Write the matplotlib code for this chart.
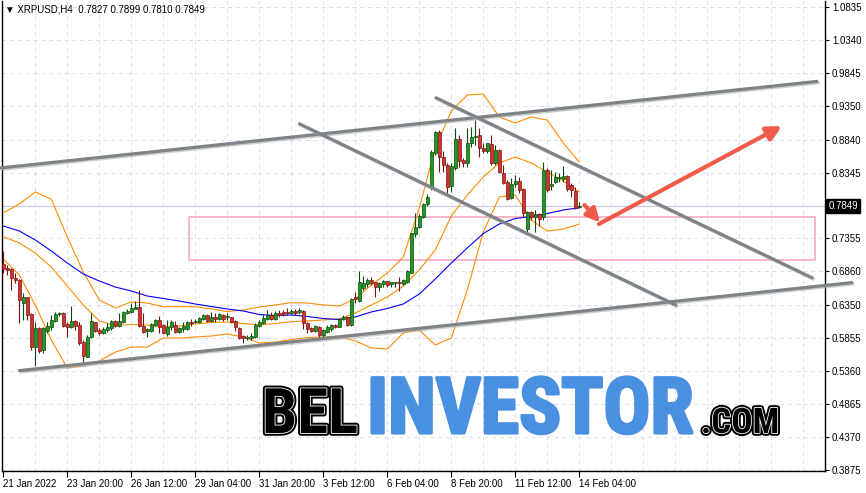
import matplotlib
matplotlib.use("Agg")
import matplotlib.pyplot as plt
import matplotlib.patheffects as pe
from matplotlib.patches import Rectangle, FancyArrowPatch
from matplotlib.transforms import blended_transform_factory

plt.rcParams['font.family'] = ['Liberation Sans', 'DejaVu Sans']

# XRPUSD H4 candles, bar 0 = 21 Jan 2022 04:00
opens = [0.6971, 0.6916, 0.6896, 0.6765, 0.6731, 0.6380, 0.6475, 0.6220, 0.5724, 0.6009,
         0.5679, 0.5964, 0.6024, 0.6115, 0.6220, 0.6240, 0.6069, 0.6024, 0.6115, 0.6054,
         0.5804, 0.5578, 0.5874, 0.6099, 0.5979, 0.5939, 0.5979, 0.6009, 0.6115, 0.6039,
         0.6104, 0.6230, 0.6255, 0.6300, 0.6325, 0.6044, 0.5969, 0.5969, 0.6054, 0.6130,
         0.6054, 0.5914, 0.6019, 0.6054, 0.5954, 0.5994, 0.5994, 0.6104, 0.6099, 0.6095,
         0.6145, 0.6205, 0.6119, 0.6180, 0.6140, 0.6200, 0.6170, 0.6170, 0.6110, 0.6004,
         0.5889, 0.5854, 0.5854, 0.5879, 0.6039, 0.6079, 0.6145, 0.6205, 0.6140, 0.6240,
         0.6255, 0.6255, 0.6230, 0.6269, 0.6245, 0.6269, 0.6079, 0.6004, 0.5969, 0.6029,
         0.5904, 0.5954, 0.5989, 0.6054, 0.6029, 0.6140, 0.6170, 0.6054, 0.6470, 0.6415,
         0.6605, 0.6666, 0.6731, 0.6696, 0.6630, 0.6666, 0.6716, 0.6666, 0.6685, 0.6696,
         0.6670, 0.6705, 0.6840, 0.7422, 0.7523, 0.7682, 0.7868, 0.8109, 0.8635, 0.8960,
         0.8584, 0.8459, 0.8144, 0.8409, 0.8845, 0.8534, 0.8494, 0.8785, 0.8875, 0.8910,
         0.8710, 0.8674, 0.8775, 0.8494, 0.8685, 0.8344, 0.8208, 0.7959, 0.8174, 0.8219,
         0.8094, 0.7497, 0.7748, 0.7682, 0.7723, 0.7673, 0.8384, 0.8149, 0.8208, 0.8259,
         0.8249, 0.8294, 0.8159, 0.8068, 0.7827]
highs = [0.7171, 0.6956, 0.6911, 0.6835, 0.6746, 0.6536, 0.6480, 0.6235, 0.6099, 0.6029,
         0.6029, 0.6104, 0.6205, 0.6255, 0.6250, 0.6255, 0.6104, 0.6340, 0.6130, 0.6104,
         0.5829, 0.5904, 0.6230, 0.6104, 0.6004, 0.6029, 0.6079, 0.6130, 0.6130, 0.6230,
         0.6265, 0.6290, 0.6380, 0.6410, 0.6580, 0.6230, 0.6004, 0.6079, 0.6145, 0.6190,
         0.6069, 0.6130, 0.6130, 0.6115, 0.6019, 0.6104, 0.6115, 0.6140, 0.6140, 0.6180,
         0.6220, 0.6220, 0.6255, 0.6230, 0.6240, 0.6220, 0.6230, 0.6180, 0.6130, 0.6019,
         0.5904, 0.5904, 0.5929, 0.6079, 0.6130, 0.6220, 0.6280, 0.6255, 0.6269, 0.6280,
         0.6280, 0.6305, 0.6290, 0.6290, 0.6305, 0.6280, 0.6095, 0.6019, 0.6054, 0.6039,
         0.5989, 0.6054, 0.6069, 0.6069, 0.6155, 0.6200, 0.6190, 0.6460, 0.6545, 0.6866,
         0.6785, 0.6756, 0.6771, 0.6706, 0.6696, 0.6731, 0.6721, 0.6706, 0.6706, 0.6780,
         0.6741, 0.6881, 0.7442, 0.7733, 0.7723, 0.7883, 0.8023, 0.8685, 0.8975, 0.8985,
         0.8674, 0.8484, 0.8484, 0.9020, 0.8910, 0.8560, 0.9010, 0.9035, 0.9135, 0.9010,
         0.8785, 0.8794, 0.8910, 0.8760, 0.8695, 0.8459, 0.8234, 0.8259, 0.8309, 0.8284,
         0.8109, 0.7768, 0.7768, 0.7783, 0.7733, 0.8509, 0.8409, 0.8384, 0.8359, 0.8334,
         0.8444, 0.8309, 0.8184, 0.8133, 0.7899]
lows = [0.6840, 0.6806, 0.6580, 0.6685, 0.6084, 0.6130, 0.6130, 0.5679, 0.5438, 0.5634,
        0.5629, 0.5929, 0.5979, 0.6104, 0.6190, 0.6029, 0.5878, 0.6009, 0.5979, 0.5754,
        0.5488, 0.5568, 0.5854, 0.5954, 0.5904, 0.5919, 0.5954, 0.5979, 0.6019, 0.6029,
        0.6089, 0.6220, 0.6250, 0.6290, 0.6029, 0.5939, 0.5878, 0.5954, 0.6039, 0.5939,
        0.5919, 0.5894, 0.5979, 0.5939, 0.5939, 0.5954, 0.5979, 0.6039, 0.6079, 0.6079,
        0.6130, 0.6104, 0.6104, 0.6104, 0.6130, 0.6119, 0.6130, 0.6079, 0.5969, 0.5839,
        0.5779, 0.5829, 0.5829, 0.5854, 0.6029, 0.6064, 0.6130, 0.6130, 0.6130, 0.6170,
        0.6190, 0.6205, 0.6220, 0.6205, 0.6220, 0.5989, 0.5929, 0.5954, 0.5954, 0.5878,
        0.5854, 0.5939, 0.5969, 0.6004, 0.6019, 0.6130, 0.6039, 0.6039, 0.6385, 0.6400,
        0.6580, 0.6630, 0.6655, 0.6480, 0.6570, 0.6630, 0.6630, 0.6630, 0.6630, 0.6570,
        0.6655, 0.6690, 0.6831, 0.7381, 0.7508, 0.7658, 0.7848, 0.8083, 0.8610, 0.8359,
        0.8359, 0.8033, 0.8058, 0.8384, 0.8434, 0.8424, 0.8424, 0.8735, 0.8760, 0.8584,
        0.8635, 0.8635, 0.8459, 0.8459, 0.8344, 0.8174, 0.7933, 0.7943, 0.8133, 0.8033,
        0.7682, 0.7457, 0.7633, 0.7457, 0.7547, 0.7633, 0.8058, 0.8083, 0.8184, 0.8208,
        0.8208, 0.8073, 0.7974, 0.7793, 0.7810]
closes = [0.6896, 0.6881, 0.6761, 0.6731, 0.6430, 0.6480, 0.6205, 0.5728, 0.6009, 0.5664,
          0.6009, 0.6039, 0.6130, 0.6220, 0.6240, 0.6044, 0.6024, 0.6115, 0.6039, 0.5784,
          0.5588, 0.5879, 0.6115, 0.5969, 0.5934, 0.5994, 0.6029, 0.6119, 0.6039, 0.6119,
          0.6250, 0.6269, 0.6315, 0.6330, 0.6044, 0.5954, 0.5994, 0.6069, 0.6130, 0.6019,
          0.5929, 0.6019, 0.6104, 0.5954, 0.6004, 0.6044, 0.6104, 0.6079, 0.6119, 0.6165,
          0.6205, 0.6119, 0.6180, 0.6150, 0.6220, 0.6145, 0.6195, 0.6104, 0.6019, 0.5854,
          0.5854, 0.5879, 0.5894, 0.6054, 0.6095, 0.6165, 0.6205, 0.6145, 0.6240, 0.6205,
          0.6220, 0.6230, 0.6269, 0.6240, 0.6280, 0.6079, 0.5989, 0.5969, 0.6039, 0.5904,
          0.5979, 0.6029, 0.6054, 0.6029, 0.6140, 0.6180, 0.6054, 0.6445, 0.6445, 0.6694,
          0.6690, 0.6731, 0.6681, 0.6630, 0.6681, 0.6716, 0.6655, 0.6696, 0.6696, 0.6681,
          0.6731, 0.6866, 0.7432, 0.7523, 0.7697, 0.7868, 0.7974, 0.8650, 0.8960, 0.8584,
          0.8459, 0.8133, 0.8444, 0.8845, 0.8524, 0.8494, 0.8794, 0.8885, 0.8895, 0.8710,
          0.8674, 0.8785, 0.8494, 0.8685, 0.8359, 0.8193, 0.7948, 0.8174, 0.8224, 0.8083,
          0.7733, 0.7748, 0.7673, 0.7723, 0.7643, 0.8384, 0.8083, 0.8174, 0.8284, 0.8284,
          0.8294, 0.8094, 0.8083, 0.7808, 0.7849]

# indicator lines, read every 4 bars
ind_bars = list(range(0, 145, 4))
ma_blue = [0.7542, 0.7467, 0.7332, 0.7167, 0.6986, 0.6821, 0.6716, 0.6625, 0.6565, 0.6490,
           0.6453, 0.6415, 0.6370, 0.6332, 0.6295, 0.6265, 0.6212, 0.6197, 0.6205, 0.6182,
           0.6152, 0.6137, 0.6175, 0.6250, 0.6302, 0.6370, 0.6520, 0.6746, 0.6986, 0.7212,
           0.7429, 0.7572, 0.7655, 0.7685, 0.7730, 0.7783, 0.7817]
bb_upper = [0.7738, 0.7873, 0.8053, 0.7948, 0.7377, 0.6851, 0.6430, 0.6310, 0.6400, 0.6385,
            0.6329, 0.6329, 0.6329, 0.6295, 0.6257, 0.6280, 0.6325, 0.6355, 0.6390, 0.6385,
            0.6355, 0.6340, 0.6445, 0.6656, 0.6836, 0.7076, 0.7813, 0.8715, 0.9271, 0.9511,
            0.9526, 0.9181, 0.9090, 0.9181, 0.9135, 0.8790, 0.8504]
bb_middle = [0.7381, 0.7287, 0.7136, 0.6926, 0.6640, 0.6355, 0.6115, 0.6047, 0.6062, 0.6054,
             0.6024, 0.6039, 0.6069, 0.6092, 0.6100, 0.6077, 0.6054, 0.6077, 0.6104, 0.6115,
             0.6130, 0.6145, 0.6235, 0.6355, 0.6475, 0.6640, 0.6881, 0.7182, 0.7693, 0.8008,
             0.8279, 0.8489, 0.8579, 0.8489, 0.8354, 0.8219, 0.8053]
bb_lower = [0.7046, 0.6806, 0.6355, 0.5829, 0.5408, 0.5438, 0.5513, 0.5648, 0.5723, 0.5723,
            0.5859, 0.5859, 0.5874, 0.5889, 0.5919, 0.5874, 0.5784, 0.5799, 0.5836, 0.5866,
            0.5874, 0.5881, 0.5814, 0.5709, 0.5694, 0.5934, 0.5979, 0.5754, 0.5859, 0.6581,
            0.7452, 0.7978, 0.8008, 0.7633, 0.7467, 0.7497, 0.7572]

price_ticks = [1.0835, 1.0340, 0.9845, 0.9350, 0.8840, 0.8345, 0.7355, 0.6860,
               0.6350, 0.5855, 0.5360, 0.4865, 0.4370, 0.3875]
grid_levels = price_ticks + [0.7850]
time_tick_bars = [0, 16, 32, 48, 64, 80, 96, 112, 128, 144]
time_labels = ['21 Jan 2022', '23 Jan 20:00', '26 Jan 12:00', '29 Jan 04:00', '31 Jan 20:00',
               '3 Feb 12:00', '6 Feb 04:00', '8 Feb 20:00', '11 Feb 12:00', '14 Feb 04:00']
last_price = 0.7849
header = '\u25bc XRPUSD,H4  0.7827 0.7899 0.7810 0.7849'

# objects drawn on the chart, as (bar, price)
trend_lines = [((-0.83, 0.8414), (203.7, 0.9717)),
               ((3.75, 0.5367), (212.4, 0.6693)),
               ((73.75, 0.9086), (168.4, 0.6347)),
               ((107.9, 0.9477), (202.5, 0.6756))]
zone_bars = (46.5, 203.0)
zone_prices = (0.7031, 0.7682)
arrow_small = ((145.3, 0.7858), (149.2, 0.7595))
arrow_big = ((148.9, 0.7572), (194.6, 0.9045))

W, H = 866, 493
fig = plt.figure(figsize=(W / 100, H / 100), dpi=100)
ax = fig.add_axes([1.7 / W, 22 / H, (825 - 1.7) / W, 470 / H])
ax.set_xlim(-0.4, 205.43)
ax.set_ylim(0.3860, 1.0924)

grid_kw = dict(color='#d9d9f0', lw=0.7, ls=(0, (4, 4)), zorder=0)
for lvl in grid_levels:
    ax.axhline(lvl, **grid_kw)
for b in range(8, 206, 8):
    ax.axvline(b, **grid_kw)
ax.axhline(last_price, color='#c8c8dc', lw=0.8, zorder=1)

# support zone
zr = Rectangle((zone_bars[0], zone_prices[0]), zone_bars[1] - zone_bars[0],
               zone_prices[1] - zone_prices[0], fill=False, ec='#f5a3c0', lw=1.1, zorder=2)
ax.add_patch(zr)

# Bollinger bands and MA
ax.plot(ind_bars, bb_upper, color='#ff8c00', lw=0.8, zorder=3)
ax.plot(ind_bars, bb_middle, color='#ff8c00', lw=0.8, zorder=3)
ax.plot(ind_bars, bb_lower, color='#ff8c00', lw=0.8, zorder=3)
ax.plot(ind_bars, ma_blue, color='#0000ff', lw=0.8, zorder=3)

# candles
for i in range(len(opens)):
    o, h, l, c = opens[i], highs[i], lows[i], closes[i]
    up = c >= o
    body = '#1f9a1f' if up else '#d4322c'
    edge = '#0c4a0c' if up else '#7a1414'
    ax.vlines(i, l, h, color=edge, lw=0.8, zorder=4)
    ax.bar(i, max(abs(c - o), 0.0008), bottom=min(o, c), width=0.72,
           color=body, edgecolor=edge, linewidth=0.5, zorder=5)

# trend lines
shadow = [pe.SimpleLineShadow(offset=(1, -1), shadow_color='#b0b0b0', alpha=0.6), pe.Normal()]
for (x0, y0), (x1, y1) in trend_lines:
    ax.plot([x0, x1], [y0, y1], color='#7d8386', lw=2.3, solid_capstyle='butt',
            zorder=6, clip_on=False, path_effects=shadow)

# arrows
for (p0, p1), ms, w in ((arrow_small, 20, 3.0), (arrow_big, 22, 3.0)):
    ar = FancyArrowPatch(p0, p1, arrowstyle='-|>', mutation_scale=ms, color='#f25a4a',
                         lw=w, zorder=7, shrinkA=0, shrinkB=0)
    ar.set_path_effects([pe.SimplePatchShadow(offset=(1.5, -1.5), alpha=0.35), pe.Normal()])
    ax.add_patch(ar)

# axes styling
for s in ax.spines.values():
    s.set_linewidth(1.0)
    s.set_color('black')
ax.spines['top'].set_visible(False)
ax.yaxis.tick_right()
ax.set_yticks(price_ticks)
ax.set_yticklabels(['%.4f' % v for v in price_ticks])
ax.tick_params(axis='y', length=3, width=0.8, pad=2, labelsize=7, colors='black')
ax.set_xticks(time_tick_bars)
ax.set_xticklabels(time_labels)
ax.tick_params(axis='x', length=4, width=0.8, pad=2, labelsize=7, colors='black')
for lab in ax.get_xticklabels():
    lab.set_horizontalalignment('left')

trans = blended_transform_factory(ax.transAxes, ax.transData)
ax.text(1.004, last_price, '%.4f' % last_price, transform=trans, ha='left', va='center',
        fontsize=7, color='white', clip_on=False, zorder=10,
        bbox=dict(boxstyle='square,pad=0.2', fc='black', ec='black'))

fig.text(5 / W, 1 - 10 / H, header, fontsize=7, va='center', ha='left',
         family=['Liberation Sans', 'DejaVu Sans'])

# watermark, each word scaled to its width in the reference
outline = [pe.Stroke(linewidth=4, foreground='black'),
           pe.Stroke(linewidth=1.2, foreground='white'), pe.Normal()]
heavy_blue = [pe.SimplePatchShadow(offset=(1, -1), shadow_rgbFace='#9a9a9a', alpha=0.4),
              pe.Stroke(linewidth=2.2, foreground='#4a90e2'), pe.Normal()]
wm_font = ['Roboto Condensed', 'Liberation Sans Narrow', 'DejaVu Sans Condensed', 'Liberation Sans']
base_y = (H - 433) / H
words = [('BEL', 262, 96, 'black', outline),
         ('INVESTOR', 367, 326, '#4a90e2', heavy_blue),
         ('.COM', 701, 78, 'black', outline)]
renderer = fig.canvas.get_renderer()
for txt, left, width, col, eff in words:
    t = fig.text(left / W, base_y, txt, fontsize=40, weight='bold', color=col,
                 family=wm_font, fontstretch='condensed', ha='left', va='baseline', zorder=20)
    ext = t.get_window_extent(renderer)
    t.set_fontsize(40 * width / ext.width)
    t.set_path_effects(eff)

fig.savefig('out.png', dpi=100, facecolor='white')
